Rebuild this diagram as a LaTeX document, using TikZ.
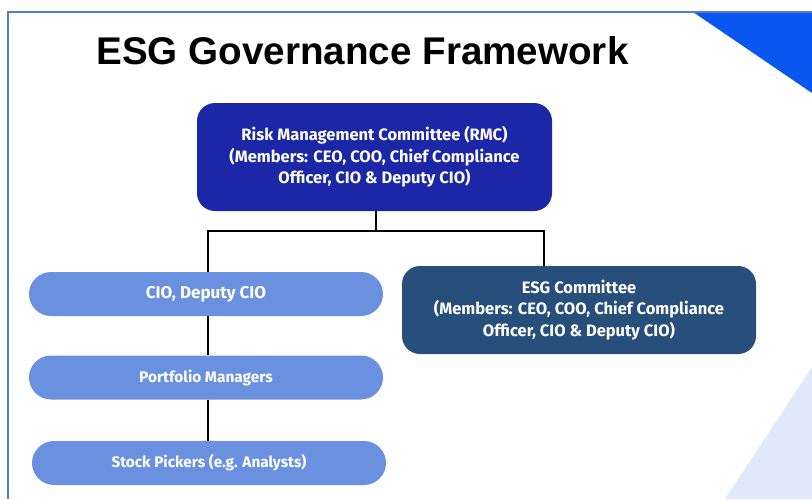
\documentclass[tikz,border=0pt]{standalone}
\usepackage{fontspec}
\setmainfont{Liberation Sans}
\newfontfamily\boxfont{Fira Sans}
\definecolor{rmcblue}{HTML}{1C27A8}
\definecolor{esgblue}{HTML}{284E7B}
\definecolor{pillblue}{HTML}{6A91DF}
\definecolor{edgeblue}{HTML}{4F7FBF}
\definecolor{cornerblue}{HTML}{0A56F0}
\definecolor{paleblue}{HTML}{E0E9FB}
\begin{document}
\begin{tikzpicture}[x=1pt, y=-1pt,
    board/.style = {rectangle, rounded corners=18pt, text=white, align=center, font=\boxfont\bfseries\fontsize{16.5}{21.5}\selectfont, minimum width=355pt, inner sep=0pt},
    pill/.style = {rectangle, rounded corners=22pt, fill=pillblue, text=white, font=\boxfont\bfseries\fontsize{#1}{18}\selectfont, minimum width=354pt, minimum height=44pt, inner sep=0pt},
    link/.style = {line width=1.5pt, black}]
    \useasboundingbox (0,0) rectangle (812,499);
    \fill[white] (0,0) rectangle (812,499);
    \fill[cornerblue] (693,12) -- (812,12) -- (812,93) -- cycle;
    \fill[paleblue] (812,367) -- (812,499) -- (725,499) -- cycle;
    \draw[edgeblue, line width=2pt] (7.5,499) -- (7.5,12) -- (812,12);
    \node (title) at (362.5,51) {\fontsize{38.6}{40}\selectfont\bfseries ESG Governance Framework};
    \node[board, fill=rmcblue, minimum height=108pt] (rmc) at (374.5,157) {Risk Management Committee (RMC)\\(Members: CEO, COO, Chief Compliance\\Officer, CIO \& Deputy CIO)};
    \node[board, fill=esgblue, minimum height=88pt, minimum width=354pt] (esg) at (579,310) {ESG Committee\\(Members: CEO, COO, Chief Compliance\\Officer, CIO \& Deputy CIO)};
    \node[pill=17] (cio) at (206,294) {CIO, Deputy CIO};
    \node[pill=15.4] (pm) at (206,377.5) {Portfolio Managers};
    \node[pill=15.3] (sp) at (209,463) {Stock Pickers (e.g. Analysts)};
    \coordinate (bus) at (376,231);
    \coordinate (esgtop) at (544,266);
    \coordinate (ciotop) at (208,272);
    \draw[link] (rmc.south -| bus) -- (bus);
    \draw[link] (ciotop) |- (bus) -| (esgtop);
    \draw[link] (cio.south -| ciotop) -- (pm.north -| ciotop);
    \draw[link] (pm.south -| ciotop) -- (sp.north -| ciotop);
\end{tikzpicture}
\end{document}
